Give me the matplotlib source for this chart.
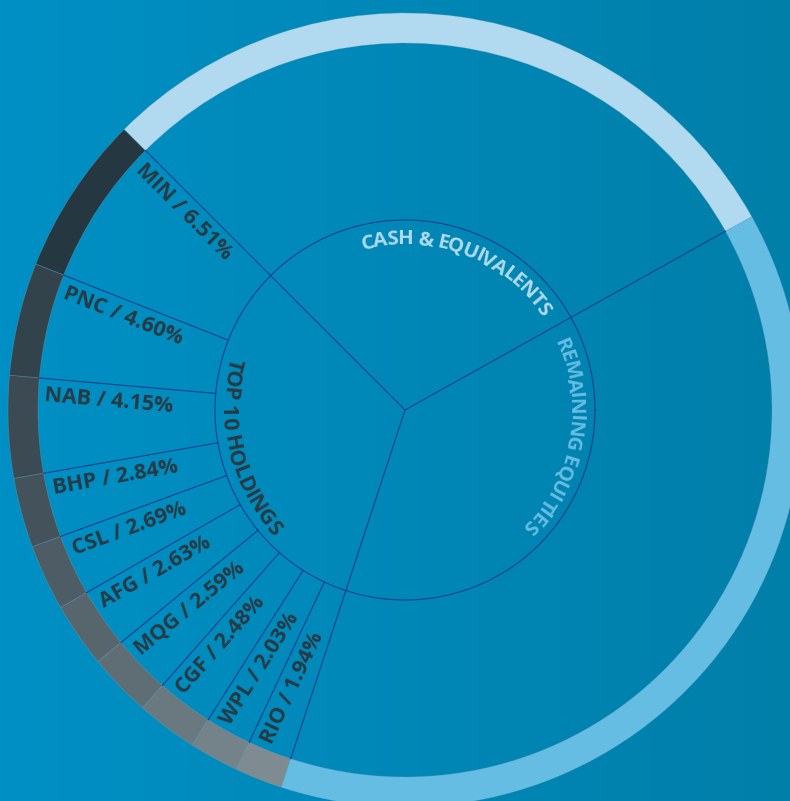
import matplotlib
matplotlib.use("Agg")
import matplotlib.pyplot as plt
import numpy as np
from matplotlib.font_manager import FontProperties, findfont, get_font
from matplotlib.colors import LinearSegmentedColormap

# data
holdings = ['MIN', 'PNC', 'NAB', 'BHP', 'CSL', 'AFG', 'MQG', 'CGF', 'WPL', 'RIO']
weights = [6.51, 4.60, 4.15, 2.84, 2.69, 2.63, 2.59, 2.48, 2.03, 1.94]
remaining = 38.14
cash = 29.40
group_names = ['TOP 10 HOLDINGS', 'REMAINING EQUITIES', 'CASH & EQUIVALENTS']

ring_colors = ['#253740', '#33434b', '#3b4a53', '#44535b', '#4e5d65',
               '#57666d', '#5f6e75', '#6a7980', '#74838a', '#7e8c92']
remaining_color = '#66bde3'
cash_color = '#b1daf0'
line_color = '#12408c'
dark_text = '#263a44'

cx, cy = 405, 391
r_out = 397
ring_w = 30
r_ring = r_out - ring_w
r_in = 190

fig = plt.figure(figsize=(7.9, 8.01), dpi=100)
ax = fig.add_axes([0, 0, 1, 1])

# background gradient
grad = np.linspace(0, 1, 256).reshape(1, -1)
bg = LinearSegmentedColormap.from_list('bg', ['#0090c5', '#007fa9'])
ax.imshow(grad, extent=(0, 790, 0, 801), aspect='auto', cmap=bg, zorder=0)

values = weights + [remaining, cash]
ax.pie(values, radius=r_out, center=(cx, cy), startangle=135, counterclock=True,
       colors=ring_colors + [remaining_color, cash_color],
       wedgeprops=dict(width=ring_w, edgecolor=(0.45, 0.65, 0.75, 0.35), linewidth=0.6),
       frame=True)

total = sum(values)
edges = 135 + 360 * np.cumsum(values) / total
starts = np.concatenate([[135], edges[:-1]])

# radial lines
group_edges = [135, edges[len(weights) - 1], edges[len(weights)]]
for a in group_edges:
    t = np.radians(a)
    ax.plot([cx, cx + r_ring * np.cos(t)], [cy, cy + r_ring * np.sin(t)],
            color=line_color, lw=0.8, zorder=3)
for a in edges[:len(weights) - 1]:
    t = np.radians(a)
    ax.plot([cx + r_in * np.cos(t), cx + r_ring * np.cos(t)],
            [cy + r_in * np.sin(t), cy + r_ring * np.sin(t)],
            color=line_color, lw=0.8, zorder=3)
th = np.linspace(0, 2 * np.pi, 400)
ax.plot(cx + r_in * np.cos(th), cy + r_in * np.sin(th), color=line_color, lw=0.8, zorder=3)

# holding labels
for name, w, a in zip(holdings, weights, starts[:len(weights)]):
    t = np.radians(a)
    px = cx + 360 * np.cos(t) - 6 * np.sin(t)
    py = cy + 360 * np.sin(t) + 6 * np.cos(t)
    ax.text(px, py, f'{name} / {w:.2f}%', rotation=a + 180, rotation_mode='anchor',
            ha='left', va='top', fontsize=15.5, fontweight='bold',
            family='Open Sans', color=dark_text, zorder=4)

# curved group labels
fp = FontProperties(family='Open Sans', weight='bold')
font = get_font(findfont(fp))


def arc_text(s, r_mid, a_mid, color, tops_out, size_px, track=1.0):
    # a_mid: centre angle of the text; tops_out -> runs clockwise
    font.set_size(size_px * 0.72, 100)
    advs = []
    for ch in s:
        g = font.load_char(ord(ch))
        advs.append(g.linearHoriAdvance / 65536 * track)
    advs = np.array(advs)
    cap = 0.714 * size_px
    sign = -1 if tops_out else 1
    r_base = r_mid - cap / 2 if tops_out else r_mid + cap / 2
    pos = np.cumsum(advs) - advs / 2 - advs.sum() / 2
    for ch, p in zip(s, pos):
        t = np.radians(a_mid) + sign * p / r_mid
        rot = np.degrees(t) - 90 if tops_out else np.degrees(t) + 90
        ax.text(cx + r_base * np.cos(t), cy + r_base * np.sin(t), ch,
                rotation=rot, rotation_mode='anchor', ha='center', va='baseline',
                fontsize=size_px * 0.72, fontweight='bold', family='Open Sans',
                color=color, zorder=4)


arc_text(group_names[2], 173, 69.5, cash_color, True, 20.5, 0.96)
arc_text(group_names[1], 172, -10, remaining_color, True, 20.5, 0.96)
arc_text(group_names[0], 175, 193.5, dark_text, False, 21.5, 0.96)

ax.set_xlim(0, 790)
ax.set_ylim(0, 801)
ax.axis('off')
fig.savefig('out.png', dpi=100)
